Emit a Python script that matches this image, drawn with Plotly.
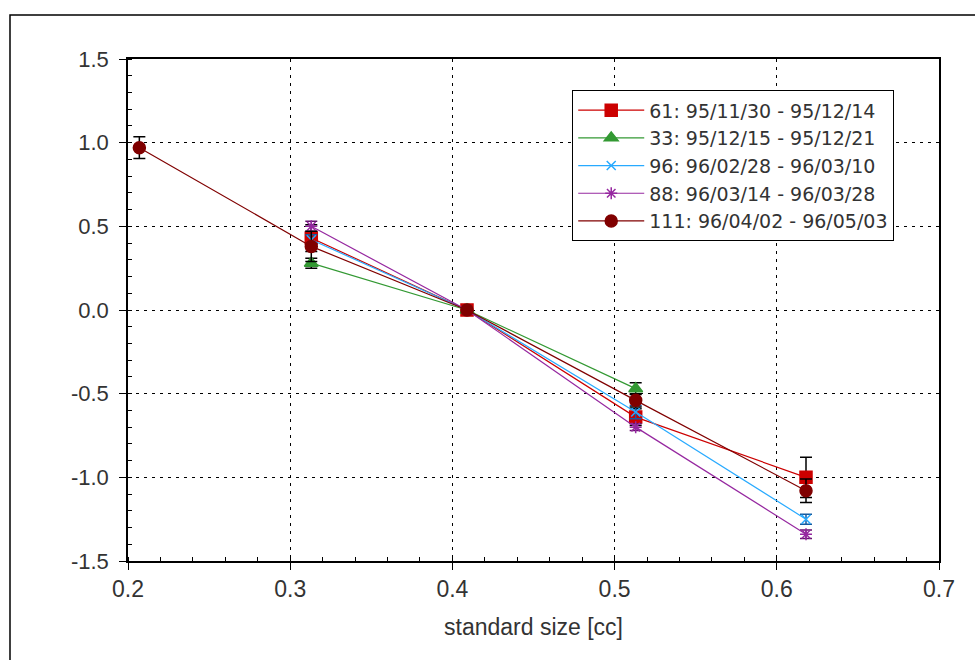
import plotly.graph_objects as go

# ---- data ----
labels = ["61: 95/11/30 - 95/12/14", "33: 95/12/15 - 95/12/21", "96: 96/02/28 - 96/03/10",
          "88: 96/03/14 - 96/03/28", "111: 96/04/02 - 96/05/03"]

x61 = [0.313, 0.409, 0.513, 0.618]
y61 = [0.43, 0.0, -0.64, -1.00]
e61 = [0.08, 0.01, 0.05, 0.12]

x33 = [0.313, 0.409, 0.513]
y33 = [0.28, 0.0, -0.47]
e33 = [0.03, 0.01, 0.035]

x96 = [0.313, 0.409, 0.513, 0.618]
y96 = [0.42, 0.0, -0.61, -1.25]
e96 = [0.03, 0.01, 0.04, 0.03]

x88 = [0.313, 0.409, 0.513, 0.618]
y88 = [0.50, 0.0, -0.70, -1.34]
e88 = [0.03, 0.01, 0.02, 0.025]

x111 = [0.207, 0.313, 0.409, 0.513, 0.618]
y111 = [0.97, 0.38, 0.0, -0.54, -1.08]
e111 = [0.065, 0.09, 0.01, 0.04, 0.07]

xticks = [0.2, 0.3, 0.4, 0.5, 0.6, 0.7]
xticktext = ["0.2", "0.3", "0.4", "0.5", "0.6", "0.7"]
yticks = [1.5, 1.0, 0.5, 0.0, -0.5, -1.0, -1.5]
yticktext = ["1.5", "1.0", "0.5", "0.0", "-0.5", "-1.0", "-1.5"]

series = [
    (x61, y61, e61, labels[0], "rgb(204,0,0)", "square", 12, "black"),
    (x33, y33, e33, labels[1], "rgb(51,153,51)", "triangle-up", 12, "black"),
    (x96, y96, e96, labels[2], "rgb(40,170,255)", "x-thin-open", 9, "rgb(20,90,160)"),
    (x88, y88, e88, labels[3], "rgb(150,40,160)", "asterisk-open", 10, "rgb(100,20,110)"),
    (x111, y111, e111, labels[4], "rgb(128,0,0)", "circle", 12, "black"),
]

fig = go.Figure()
for xs, ys, es, name, col, sym, size, ecol in series:
    fig.add_trace(go.Scatter(
        x=xs, y=ys, name=name, mode="lines+markers",
        line=dict(color=col, width=1.2),
        marker=dict(symbol=sym, size=size, color=col, line=dict(color=col, width=1.5)),
        error_y=dict(type="data", array=es, visible=True, color=ecol, thickness=1.5, width=6),
    ))

axis_common = dict(
    showline=True, linecolor="black", linewidth=1.5, mirror=True,
    showgrid=True, gridcolor="black", gridwidth=1.2, griddash="3px,5px",
    zeroline=False, ticks="outside", ticklen=7, tickcolor="black", tickwidth=1.2,
    tickfont=dict(family="Liberation Sans, Arial", color="#333"),
)

fig.update_xaxes(**axis_common, range=[0.2, 0.7], tickvals=xticks, ticktext=xticktext,
                 tickfont_size=23,
                 minor=dict(ticks="inside", ticklen=4, dtick=0.02, tick0=0.2,
                            tickcolor="black", showgrid=False),
                 title=dict(text="standard size [cc]",
                            font=dict(family="Liberation Sans, Arial", size=23, color="#333"),
                            standoff=18))
fig.update_yaxes(**axis_common, range=[-1.5, 1.5], tickvals=yticks, ticktext=yticktext,
                 tickfont_size=22, ticklabelstandoff=6,
                 minor=dict(ticks="inside", ticklen=4, dtick=0.1, tick0=0,
                            tickcolor="black", showgrid=False))

fig.update_layout(
    width=975, height=660,
    margin=dict(l=128, r=36, t=59, b=99),
    plot_bgcolor="white", paper_bgcolor="white",
    font=dict(family="DejaVu Sans", color="#333"),
    legend=dict(x=0.5475, y=0.938, xanchor="left", yanchor="top",
                bgcolor="white", bordercolor="black", borderwidth=1.2,
                font=dict(family="DejaVu Sans", size=19, color="#333"),
                itemwidth=66, tracegroupgap=0),
    shapes=[dict(type="rect", xref="paper", yref="paper",
                 x0=-0.1455, x1=1.06, y0=-0.22, y1=1.0876,
                 line=dict(color="black", width=1.5), layer="below")],
)

fig.write_html("out.html")
